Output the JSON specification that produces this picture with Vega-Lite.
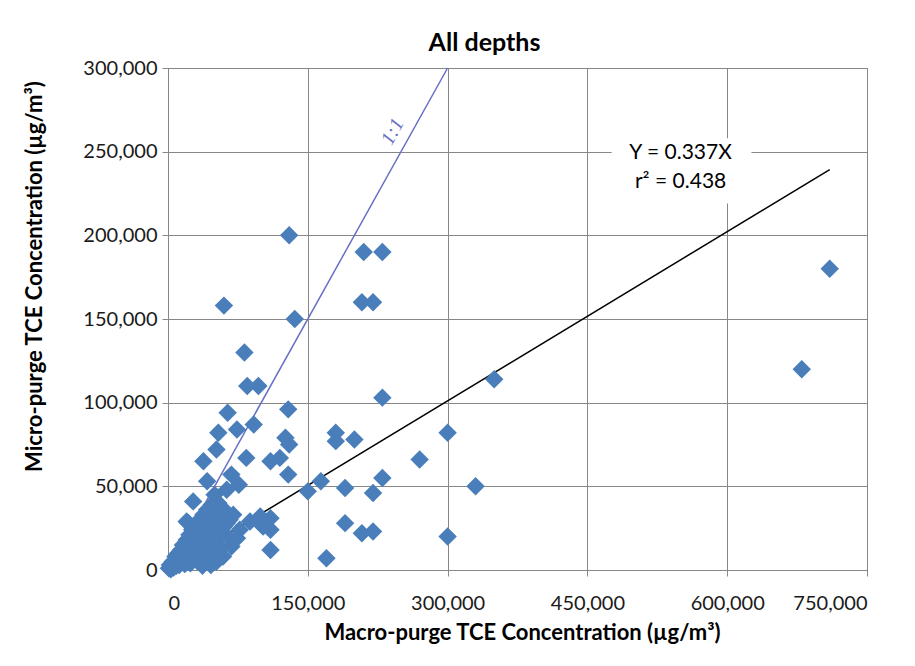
{
  "$schema": "https://vega.github.io/schema/vega-lite/v6.json",
  "width": 699,
  "height": 502,
  "autosize": {"type": "none"},
  "padding": {"left": 168, "top": 68, "right": 48, "bottom": 96},
  "background": "white",
  "title": {"text": "All depths", "font": "Lato", "fontSize": 25, "fontWeight": "bold", "color": "#000000", "dx": -33, "offset": 2},
  "config": {
    "view": {"stroke": "#878787", "strokeWidth": 1},
    "axis": {
      "gridColor": "#878787", "gridOpacity": 1, "gridWidth": 1,
      "domainColor": "#878787", "tickColor": "#878787", "tickSize": 6,
      "labelFont": "Lato", "labelFontSize": 20, "labelColor": "#1a1a1a",
      "titleFont": "Lato", "titleFontSize": 22, "titleFontWeight": "bold", "titleColor": "#000000"
    }
  },
  "datasets": {
    "points": [
      {"x": 710000, "y": 180000}, {"x": 680000, "y": 120000}, {"x": 350000, "y": 114000}, {"x": 330000, "y": 50000},
      {"x": 300000, "y": 82000}, {"x": 300000, "y": 20000}, {"x": 270000, "y": 66000}, {"x": 230000, "y": 190000},
      {"x": 210000, "y": 190000}, {"x": 220000, "y": 160000}, {"x": 208000, "y": 160000}, {"x": 230000, "y": 103000},
      {"x": 230000, "y": 55000}, {"x": 220000, "y": 46000}, {"x": 220000, "y": 23000}, {"x": 208000, "y": 22000},
      {"x": 200000, "y": 78000}, {"x": 180000, "y": 82000}, {"x": 180000, "y": 77000}, {"x": 190000, "y": 49000},
      {"x": 190000, "y": 28000}, {"x": 170000, "y": 7000}, {"x": 164000, "y": 53000}, {"x": 150000, "y": 47000},
      {"x": 130000, "y": 200000}, {"x": 136000, "y": 150000}, {"x": 129000, "y": 96000}, {"x": 126000, "y": 79000},
      {"x": 130000, "y": 75000}, {"x": 129000, "y": 57000}, {"x": 120000, "y": 67000}, {"x": 110000, "y": 65000},
      {"x": 110000, "y": 31000}, {"x": 110000, "y": 24000}, {"x": 110000, "y": 12000}, {"x": 99000, "y": 32000},
      {"x": 102000, "y": 26000}, {"x": 88000, "y": 29000}, {"x": 60000, "y": 158000}, {"x": 82000, "y": 130000},
      {"x": 85000, "y": 110000}, {"x": 97000, "y": 110000}, {"x": 64000, "y": 94000}, {"x": 92000, "y": 87000},
      {"x": 74000, "y": 84000}, {"x": 54000, "y": 82000}, {"x": 52000, "y": 72000}, {"x": 38000, "y": 65000},
      {"x": 84000, "y": 67000}, {"x": 42000, "y": 53000}, {"x": 68000, "y": 57000}, {"x": 76000, "y": 51000},
      {"x": 63000, "y": 48000}, {"x": 50000, "y": 45000}, {"x": 27000, "y": 41000}, {"x": 54000, "y": 40000},
      {"x": 22000, "y": 28000}, {"x": 77000, "y": 24000}, {"x": 63000, "y": 28000}, {"x": 20000, "y": 29000},
      {"x": 1000, "y": 1000}, {"x": 2000, "y": 3000}, {"x": 3000, "y": 500}, {"x": 4000, "y": 2000},
      {"x": 5000, "y": 5000}, {"x": 6000, "y": 1500}, {"x": 7000, "y": 4000}, {"x": 8000, "y": 8000},
      {"x": 9000, "y": 2500}, {"x": 10000, "y": 6000}, {"x": 11000, "y": 10000}, {"x": 12000, "y": 3000},
      {"x": 13000, "y": 8000}, {"x": 14000, "y": 12000}, {"x": 15000, "y": 5000}, {"x": 16000, "y": 15000},
      {"x": 17000, "y": 10000}, {"x": 18000, "y": 3500}, {"x": 19000, "y": 13000}, {"x": 20000, "y": 18000},
      {"x": 21000, "y": 8000}, {"x": 22000, "y": 15000}, {"x": 23000, "y": 21000}, {"x": 24000, "y": 4000},
      {"x": 25000, "y": 12000}, {"x": 26000, "y": 24000}, {"x": 27000, "y": 17000}, {"x": 28000, "y": 9000},
      {"x": 29000, "y": 22000}, {"x": 30000, "y": 27000}, {"x": 31000, "y": 14000}, {"x": 32000, "y": 5000},
      {"x": 33000, "y": 20000}, {"x": 34000, "y": 30000}, {"x": 35000, "y": 25000}, {"x": 36000, "y": 11000},
      {"x": 37000, "y": 2500}, {"x": 38000, "y": 33000}, {"x": 39000, "y": 18000}, {"x": 40000, "y": 28000},
      {"x": 41000, "y": 6000}, {"x": 42000, "y": 36000}, {"x": 43000, "y": 22000}, {"x": 44000, "y": 14000},
      {"x": 45000, "y": 31000}, {"x": 46000, "y": 3000}, {"x": 47000, "y": 39000}, {"x": 48000, "y": 25000},
      {"x": 49000, "y": 9000}, {"x": 50000, "y": 34000}, {"x": 51000, "y": 18000}, {"x": 52000, "y": 5000},
      {"x": 53000, "y": 28000}, {"x": 55000, "y": 37000}, {"x": 56000, "y": 22000}, {"x": 57000, "y": 13000},
      {"x": 58000, "y": 32000}, {"x": 60000, "y": 26000}, {"x": 62000, "y": 35000}, {"x": 64000, "y": 20000},
      {"x": 66000, "y": 30000}, {"x": 59000, "y": 8000}, {"x": 70000, "y": 33000}, {"x": 68000, "y": 14000},
      {"x": 74000, "y": 19000}
    ],
    "oneToOne": [{"x": 0, "y": 0}, {"x": 300000, "y": 300000}],
    "fit": [{"x": 0, "y": 0}, {"x": 710000, "y": 239270}],
    "labelBox": [{"x": 476000, "x2": 626000, "y": 219000, "y2": 258000}],
    "notes": [
      {"x": 550000, "y": 249000, "label": "Y = 0.337X"},
      {"x": 550000, "y": 232000, "label": "r² = 0.438"}
    ],
    "ratioLabel": [{"x": 241000, "y": 262000, "label": "1:1"}]
  },
  "encoding": {
    "x": {"field": "x", "type": "quantitative", "scale": {"domain": [0, 750000], "nice": false},
      "axis": {"values": [0, 150000, 300000, 450000, 600000, 750000], "format": ",d", "labelPadding": 17, "titlePadding": 9, "titleX": 354,
        "title": "Macro-purge TCE Concentration (µg/m³)"}},
    "y": {"field": "y", "type": "quantitative", "scale": {"domain": [0, 300000], "nice": false},
      "axis": {"values": [0, 50000, 100000, 150000, 200000, 250000, 300000], "format": ",d", "labelPadding": 5, "titlePadding": 36, "titleY": 208,
        "title": "Micro-purge TCE Concentration (µg/m³)"}}
  },
  "layer": [
    {"data": {"name": "labelBox"}, "mark": {"type": "rect", "color": "white"},
      "encoding": {"x2": {"field": "x2"}, "y2": {"field": "y2"}}},
    {"data": {"name": "oneToOne"}, "mark": {"type": "line", "color": "#6670C4", "strokeWidth": 1.5}, "encoding": {}},
    {"data": {"name": "fit"}, "mark": {"type": "line", "color": "#000000", "strokeWidth": 1.5}, "encoding": {}},
    {"data": {"name": "points"}, "mark": {"type": "point", "shape": "diamond", "filled": true, "size": 340, "color": "#4A7EBB", "opacity": 1}},
    {"data": {"name": "notes"}, "mark": {"type": "text", "font": "Lato", "fontSize": 21, "color": "#000000", "align": "center", "baseline": "middle"},
      "encoding": {"text": {"field": "label"}}},
    {"data": {"name": "ratioLabel"}, "mark": {"type": "text", "font": "Liberation Serif", "fontStyle": "italic", "fontSize": 20, "color": "#6670C4", "angle": 299, "align": "center", "baseline": "middle"},
      "encoding": {"text": {"field": "label"}}}
  ]
}
